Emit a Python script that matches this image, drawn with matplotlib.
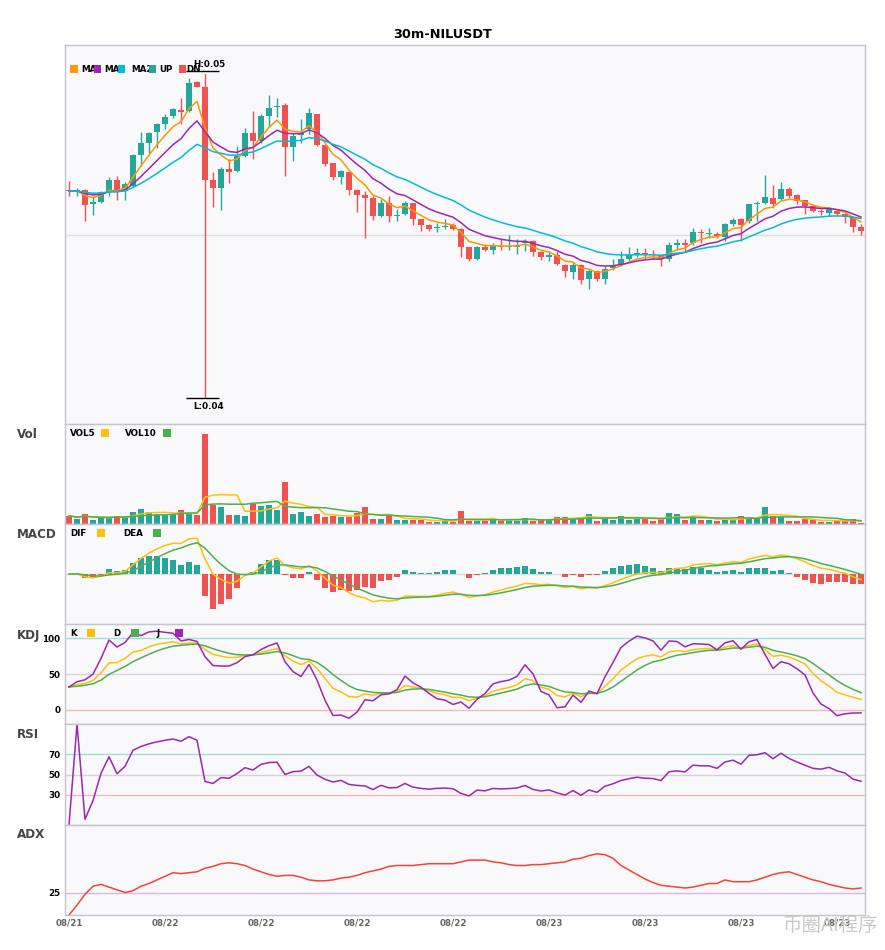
import numpy as np
import pandas as pd
import matplotlib
matplotlib.use("Agg")
import matplotlib.pyplot as plt
from matplotlib.patches import Rectangle

# 30m NILUSDT candles, prices in 1e-5 USDT
opens = [4636, 4632, 4636, 4593, 4601, 4633, 4668, 4633, 4648, 4743,
         4779, 4814, 4837, 4863, 4880, 4878, 4967, 4950, 4666, 4641,
         4699, 4694, 4740, 4810, 4786, 4862, 4890, 4895, 4768, 4804,
         4822, 4868, 4773, 4718, 4676, 4692, 4635, 4620, 4611, 4557,
         4595, 4557, 4562, 4595, 4546, 4528, 4520, 4523, 4528, 4518,
         4461, 4424, 4461, 4452, 4464, 4461, 4462, 4473, 4480, 4446,
         4432, 4436, 4408, 4385, 4408, 4364, 4387, 4364, 4398, 4408,
         4426, 4438, 4442, 4439, 4436, 4425, 4469, 4474, 4474, 4508,
         4502, 4503, 4493, 4531, 4546, 4541, 4594, 4595, 4612, 4609,
         4640, 4620, 4605, 4587, 4572, 4566, 4572, 4563, 4553, 4522]
highs = [4663, 4643, 4638, 4617, 4633, 4677, 4679, 4660, 4745, 4814,
         4814, 4842, 4868, 4888, 4919, 4978, 4971, 5000, 4692, 4707,
         4730, 4771, 4827, 4878, 4868, 4926, 4919, 4902, 4812, 4853,
         4886, 4870, 4773, 4720, 4696, 4694, 4638, 4633, 4618, 4608,
         4618, 4579, 4603, 4597, 4548, 4531, 4534, 4546, 4534, 4520,
         4461, 4464, 4472, 4475, 4485, 4497, 4485, 4485, 4483, 4448,
         4449, 4449, 4410, 4415, 4410, 4393, 4391, 4403, 4424, 4449,
         4461, 4459, 4459, 4454, 4437, 4476, 4487, 4485, 4520, 4517,
         4520, 4507, 4536, 4551, 4551, 4594, 4602, 4681, 4653, 4660,
         4646, 4623, 4607, 4590, 4579, 4585, 4577, 4566, 4556, 4531]
lows = [4619, 4617, 4541, 4559, 4597, 4617, 4607, 4605, 4645, 4709,
        4750, 4766, 4824, 4858, 4837, 4875, 4950, 4000, 4584, 4574,
        4658, 4691, 4738, 4730, 4781, 4830, 4861, 4679, 4725, 4781,
        4807, 4771, 4709, 4668, 4656, 4620, 4568, 4490, 4544, 4553,
        4538, 4541, 4560, 4528, 4510, 4510, 4507, 4516, 4513, 4431,
        4418, 4422, 4449, 4439, 4454, 4454, 4439, 4449, 4434, 4421,
        4418, 4408, 4370, 4364, 4350, 4334, 4357, 4347, 4391, 4405,
        4418, 4432, 4426, 4426, 4403, 4418, 4454, 4449, 4469, 4474,
        4490, 4490, 4480, 4525, 4480, 4536, 4541, 4592, 4582, 4605,
        4612, 4592, 4564, 4568, 4561, 4556, 4558, 4536, 4507, 4500]
closes = [4633, 4636, 4590, 4601, 4630, 4668, 4633, 4656, 4743, 4779,
          4810, 4837, 4861, 4883, 4876, 4965, 4952, 4667, 4641, 4699,
          4691, 4740, 4810, 4786, 4862, 4888, 4893, 4768, 4803, 4810,
          4871, 4773, 4715, 4676, 4694, 4635, 4620, 4612, 4557, 4595,
          4557, 4560, 4595, 4546, 4529, 4518, 4524, 4526, 4518, 4461,
          4424, 4461, 4452, 4467, 4462, 4464, 4467, 4480, 4446, 4431,
          4436, 4410, 4388, 4408, 4362, 4387, 4364, 4395, 4408, 4426,
          4436, 4444, 4438, 4436, 4425, 4469, 4474, 4469, 4508, 4505,
          4505, 4495, 4531, 4543, 4528, 4592, 4597, 4615, 4592, 4640,
          4618, 4602, 4587, 4572, 4568, 4579, 4563, 4553, 4522, 4510]
# volume in thousand NIL
volume = [83, 53, 100, 43, 60, 60, 83, 83, 123, 153,
          123, 93, 93, 93, 143, 110, 93, 903, 193, 173,
          93, 93, 83, 203, 183, 193, 143, 423, 103, 123,
          83, 103, 73, 83, 73, 73, 113, 173, 53, 53,
          83, 43, 43, 43, 43, 23, 23, 33, 23, 133,
          33, 33, 33, 53, 33, 43, 33, 63, 33, 43,
          43, 73, 73, 53, 73, 103, 33, 63, 43, 83,
          43, 63, 53, 33, 53, 113, 103, 43, 83, 43,
          43, 33, 43, 53, 83, 73, 63, 173, 83, 73,
          33, 33, 53, 43, 23, 23, 33, 33, 53, 7]
adx_vals = [0, 11, 23, 32, 34, 31, 28, 25, 27, 32,
            35, 39, 43, 47, 46, 47, 48, 52, 54, 57,
            58, 57, 55, 51, 48, 45, 43, 44, 44, 42,
            39, 38, 38, 39, 41, 42, 44, 47, 49, 51,
            54, 55, 55, 55, 56, 57, 57, 57, 57, 59,
            61, 61, 61, 59, 58, 56, 55, 55, 56, 56,
            57, 58, 59, 62, 63, 66, 68, 67, 63, 55,
            50, 45, 40, 36, 33, 32, 31, 30, 31, 33,
            35, 35, 39, 37, 37, 37, 39, 42, 45, 47,
            48, 45, 42, 39, 37, 34, 32, 30, 29, 30]
tick_idx = [0, 12, 24, 36, 48, 60, 72, 84, 96]
tick_labels = ['08/21', '08/22', '08/22', '08/22', '08/22', '08/23', '08/23', '08/23', '08/23']

o = np.array(opens) / 1e5
h = np.array(highs) / 1e5
l = np.array(lows) / 1e5
c = np.array(closes) / 1e5
v = np.array(volume, dtype=float)
assert len(o) == len(h) == len(l) == len(c) == len(v) == len(adx_vals) == 100
x = np.arange(len(c))

UP, DN = '#26a69a', '#ef5350'
YEL, GRN, PUR = '#ffc107', '#4caf50', '#9c27b0'
BG = '#f9f9fc'
cols = np.where(c >= o, UP, DN)

# indicators
cs = pd.Series(c)
ma5 = cs.ewm(span=5, adjust=False).mean()
ma10 = cs.ewm(span=10, adjust=False).mean()
ma20 = cs.ewm(span=20, adjust=False).mean()
vs = pd.Series(v)
vol5 = vs.rolling(5, min_periods=1).mean()
vol10 = vs.rolling(10, min_periods=1).mean()
dif = cs.ewm(span=6, adjust=False).mean() - cs.ewm(span=13, adjust=False).mean()
dea = dif.ewm(span=5, adjust=False).mean()
macd = (dif - dea) * 2
low9 = pd.Series(l).rolling(9, min_periods=1).min()
high9 = pd.Series(h).rolling(9, min_periods=1).max()
rsv = (cs - low9) / (high9 - low9) * 100
k = rsv.ewm(com=2, adjust=False).mean()
d = k.ewm(com=2, adjust=False).mean()
j = 3 * k - 2 * d
delta = cs.diff().fillna(0)
up_m = delta.clip(lower=0).ewm(alpha=1/14, adjust=True).mean()
dn_m = (-delta.clip(upper=0)).ewm(alpha=1/14, adjust=True).mean()
rsi = (100 * up_m / (up_m + dn_m)).fillna(0)

W, H = 885, 950
fig = plt.figure(figsize=(W / 100, H / 100), dpi=100)
fig.patch.set_facecolor('white')

def add_ax(top, bottom):
    ax = fig.add_axes([65 / W, 1 - bottom / H, 800 / W, (bottom - top) / H])
    ax.set_facecolor(BG)
    for s in ax.spines.values():
        s.set_color('#c4c4cc')
        s.set_linewidth(1)
    ax.set_xlim(-0.5, len(c) - 0.5)
    ax.set_xticks([])
    ax.set_yticks([])
    return ax

ax0 = add_ax(45, 424)
ax1 = add_ax(424, 524)
ax2 = add_ax(524, 624)
ax3 = add_ax(624, 724)
ax4 = add_ax(724, 825)
ax5 = add_ax(825, 915)

# ---- main candles ----
span = h.max() - l.min()
ax0.set_ylim(l.min() - 0.08 * span, h.max() + 0.08 * span)
ax0.axhline((h.max() + l.min()) / 2, color='#dcdcdc', lw=1, zorder=0)
ax0.vlines(x, l, h, color=cols, lw=1, zorder=2)
body = np.maximum(np.abs(c - o), 0.000015)
ax0.bar(x, body, bottom=np.minimum(o, c), width=0.75, color=cols, zorder=3)
ax0.plot(x, ma5, color='#ff9800', lw=1.1, zorder=4)
ax0.plot(x, ma10, color=PUR, lw=1.1, zorder=4)
ax0.plot(x, ma20, color='#00bcd4', lw=1.1, zorder=4)

ih, il = int(np.argmax(h)), int(np.argmin(l))
ax0.hlines(h[ih], ih - 2.4, ih + 1.8, color='black', lw=1, zorder=5)
ax0.annotate('H:%.2f' % h[ih], (ih + 0.5, h[ih]), xytext=(0, 1.5), textcoords='offset points',
             ha='center', va='bottom', fontsize=6.3, fontweight='bold', zorder=6)
ax0.hlines(l[il], il - 2.4, il + 1.8, color='black', lw=1, zorder=5)
ax0.annotate('L:%.2f' % l[il], (il + 0.5, l[il]), xytext=(0, -3), textcoords='offset points',
             ha='center', va='top', fontsize=6.3, fontweight='bold', zorder=6)

# ---- volume ----
ax1.set_ylim(0, v.max() * 1.11)
ax1.bar(x, v, width=0.75, color=cols, zorder=2)
ax1.plot(x, vol5, color=YEL, lw=1.1, zorder=3)
ax1.plot(x, vol10, color=GRN, lw=1.1, zorder=3)

# ---- MACD ----
m = max(dif.abs().max(), dea.abs().max(), macd.abs().max()) * 1.4
ax2.set_ylim(-m, m)
ax2.axhline(0, color='#dcdcdc', lw=1, zorder=0)
ax2.bar(x, macd, width=0.75, color=np.where(macd >= 0, UP, DN), zorder=2)
ax2.plot(x, dif, color=YEL, lw=1.1, zorder=3)
ax2.plot(x, dea, color=GRN, lw=1.1, zorder=3)

# ---- KDJ ----
ax3.set_ylim(-20, 120)
ax3.axhline(100, color='#a6dcd8', lw=1, zorder=0)
ax3.axhline(50, color='#d4d4d8', lw=1, zorder=0)
ax3.axhline(0, color='#f6b8b8', lw=1, zorder=0)
ax3.plot(x, k, color=YEL, lw=1.1)
ax3.plot(x, d, color=GRN, lw=1.1)
ax3.plot(x, j, color=PUR, lw=1.1)
ax3.set_yticks([0, 50, 100])

# ---- RSI ----
ax4.set_ylim(0, 100)
ax4.axhline(70, color='#a6dcd8', lw=1, zorder=0)
ax4.axhline(50, color='#d4d4d8', lw=1, zorder=0)
ax4.axhline(30, color='#f6b8b8', lw=1, zorder=0)
ax4.plot(x, rsi, color=PUR, lw=1.1)
ax4.set_yticks([30, 50, 70])

# ---- ADX ----
ax5.set_ylim(0, 100)
ax5.axhline(25, color='#dcb4e6', lw=1, zorder=0)
ax5.plot(x, adx_vals, color='#f44336', lw=1.1)
ax5.set_yticks([25])
ax5.set_xticks(tick_idx)
ax5.set_xticklabels(tick_labels)

for ax in (ax3, ax4, ax5):
    ax.tick_params(axis='y', length=0, pad=3.5, labelsize=6.3)
    for t in ax.get_yticklabels():
        t.set_fontweight('bold')
ax5.tick_params(axis='x', length=0, pad=2.5, labelsize=6.3, labelcolor='#666666')
for t in ax5.get_xticklabels():
    t.set_fontweight('bold')

# ---- titles and legends ----
fig.text(0.5, 1 - 34 / H, '30m-NILUSDT', ha='center', va='center', fontsize=9.3, fontweight='bold')
for name, ytop in [('Vol', 435), ('MACD', 535), ('KDJ', 636), ('RSI', 735), ('ADX', 835)]:
    fig.text(17 / W, 1 - ytop / H, name, ha='left', va='center', fontsize=8.6,
             fontweight='bold', color='#444444')

def legend(ax, items, y, boxed=False):
    # in the price legend each item sits on its own box, so a long label is cut by the next one
    tr = fig.transFigure
    for n, (label, color, tx, sx) in enumerate(items):
        z = 4.2 + 0.03 * n
        if boxed:
            ax.add_patch(Rectangle((sx / W, 1 - (y + 5) / H), 30 / W, 10 / H, transform=tr,
                                   facecolor=BG, edgecolor='none', zorder=z))
        ax.add_patch(Rectangle((sx / W, 1 - (y + 3.75) / H), 7.5 / W, 7.5 / H, transform=tr,
                               facecolor=color, edgecolor='none', zorder=z + 0.01))
        ax.text(tx / W, 1 - y / H, label, transform=tr, ha='left', va='center', fontsize=6.3,
                fontweight='bold', zorder=z + 0.02)

legend(ax0, [('MA5', '#ff9800', 81, 70), ('MA10', PUR, 104, 93.5), ('MA20', '#00bcd4', 131, 117.5),
             ('UP', UP, 159, 148.5), ('DN', DN, 186, 178.5)], 69, boxed=True)
legend(ax1, [('VOL5', YEL, 70, 101), ('VOL10', GRN, 125, 163)], 433)
legend(ax2, [('DIF', YEL, 70, 97), ('DEA', GRN, 123, 153)], 533)
legend(ax3, [('K', YEL, 70, 87), ('D', GRN, 113, 131), ('J', PUR, 157, 175)], 633)

fig.text(878 / W, 1 - 925 / H, '币圈AI程序', ha='right', va='center', fontsize=14,
         color='#c9c9c9', family=['Noto Sans CJK SC', 'DejaVu Sans'], zorder=10)

plt.savefig('out.png', dpi=100)
